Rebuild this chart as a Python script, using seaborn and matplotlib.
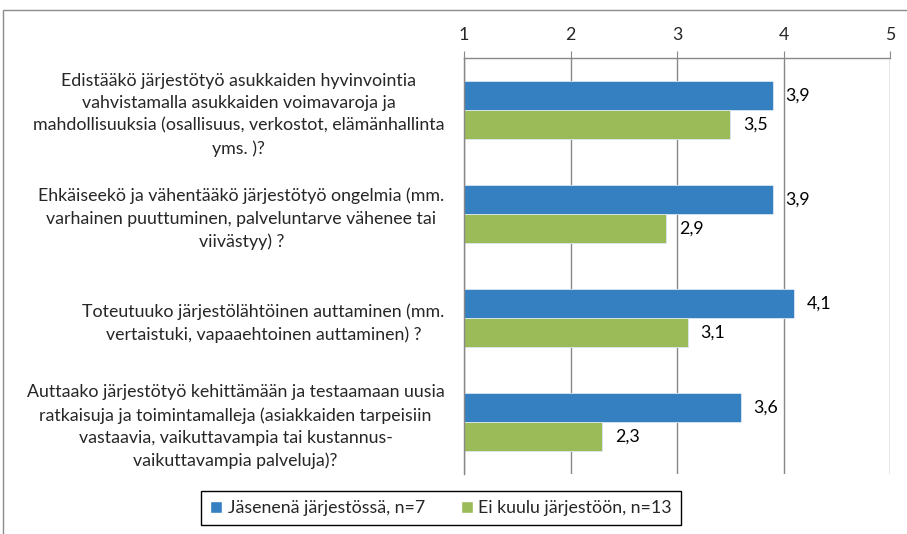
import matplotlib.pyplot as plt
import pandas as pd
import seaborn as sns
from matplotlib.patches import Rectangle

# Data
questions = [
    "Edistääkö järjestötyö asukkaiden hyvinvointia\nvahvistamalla asukkaiden voimavaroja ja\nmahdollisuuksia (osallisuus, verkostot, elämänhallinta\nyms. )?",
    "Ehkäiseekö ja vähentääkö järjestötyö ongelmia (mm.\nvarhainen puuttuminen, palveluntarve vähenee tai\nviivästyy) ?",
    "Toteutuuko järjestölähtöinen auttaminen (mm.\nvertaistuki, vapaaehtoinen auttaminen) ?",
    "Auttaako järjestötyö kehittämään ja testaamaan uusia\nratkaisuja ja toimintamalleja (asiakkaiden tarpeisiin\nvastaavia, vaikuttavampia tai kustannus-\nvaikuttavampia palveluja)?",
]
groups = ["Jäsenenä järjestössä, n=7", "Ei kuulu järjestöön, n=13"]
members = [3.9, 3.9, 4.1, 3.6]
non_members = [3.5, 2.9, 3.1, 2.3]
x_ticks = [1, 2, 3, 4, 5]


def main():
    sns.set_style("white")
    plt.rcParams["font.family"] = ["Lato", "DejaVu Sans"]

    colors = ["#3580C1", "#9BBB59"]
    grid_color = "#888888"
    fs = 12.8

    df = pd.DataFrame({
        "question": questions * 2,
        "value": members + non_members,
        "group": [groups[0]] * len(questions) + [groups[1]] * len(questions),
    })

    fig = plt.figure(figsize=(9.07, 5.34), dpi=100)
    ax = fig.add_axes([464 / 907, 1 - 474 / 534, (890 - 464) / 907, (474 - 58) / 534])

    sns.barplot(
        data=df, y="question", x="value", hue="group", orient="h",
        palette=colors, saturation=1, width=0.56, ax=ax, edgecolor="#dce6f2",
        linewidth=0.6, legend=False,
    )

    # Value labels with comma decimals
    for container in ax.containers:
        ax.bar_label(
            container,
            labels=[f"{v:.1f}".replace(".", ",") for v in container.datavalues],
            padding=9, fontsize=fs, color="black",
        )

    ax.set_xlim(1, 5)
    ax.set_ylim(3.5, -0.5)
    ax.set_xticks(x_ticks)
    ax.xaxis.tick_top()
    ax.tick_params(axis="x", direction="out", length=5, color=grid_color,
                   labelsize=fs, pad=6)
    ax.set_xlabel("")
    ax.set_ylabel("")

    # Category labels centred, ticks at category boundaries
    ax.set_yticks(range(len(questions)))
    ax.set_yticklabels(questions, multialignment="center", linespacing=1.5,
                       fontsize=fs)
    ax.tick_params(axis="y", which="major", length=0, pad=14)
    ax.set_yticks([-0.5, 0.5, 1.5, 2.5, 3.5], minor=True)
    ax.tick_params(axis="y", which="minor", length=6, color=grid_color,
                   direction="out")

    ax.grid(True, axis="x", color=grid_color, linewidth=1)
    ax.set_axisbelow(True)
    for name, spine in ax.spines.items():
        spine.set_visible(name in ("top", "left"))
        spine.set_color(grid_color)
        spine.set_linewidth(1)

    # Outer chart frame
    fig.patches.append(Rectangle((3 / 907, -0.1), 1.1, 0.1 + (534 - 10) / 534,
                                 transform=fig.transFigure, fill=False,
                                 edgecolor="#8c8c8c", linewidth=1))

    handles = [Rectangle((0, 0), 1, 1, facecolor=c) for c in colors]
    fig.legend(handles, groups, loc="center", bbox_to_anchor=(441 / 907, 1 - 508 / 534),
               ncol=2, fontsize=fs, frameon=True, fancybox=False, edgecolor="black",
               framealpha=1, handlelength=0.7, handleheight=0.7, handletextpad=0.3,
               columnspacing=2.0, borderpad=0.5)

    fig.savefig("out.png", dpi=100, facecolor="white")


if __name__ == "__main__":
    main()
